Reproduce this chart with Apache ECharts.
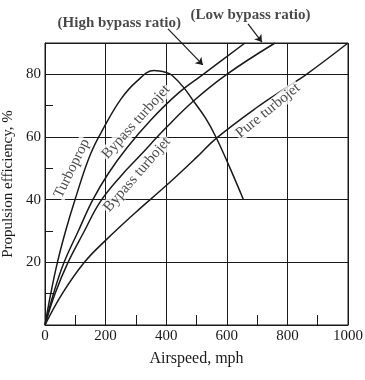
<!DOCTYPE html>
<html>
<head>
<meta charset="utf-8">
<script src="https://cdn.jsdelivr.net/npm/echarts@6/dist/echarts.min.js"></script>
<style>
html,body{margin:0;padding:0;background:#fff;}
#chart{width:365px;height:380px;}
</style>
</head>
<body>
<div id="chart"></div>
<script>
// ---- data ----
var xTicks = [0, 200, 400, 600, 800, 1000];
var yTicks = [20, 40, 60, 80];

var turbopropX = [0, 19, 41, 68, 99, 150, 200, 250, 300, 360, 400, 418, 456, 490, 530, 564, 611, 655];
var turbopropY = [0, 10, 20, 30, 40, 54.5, 64, 72, 77.5, 81.2, 80.6, 79.8, 76, 71.5, 66, 60, 50, 40];

var highBypassX = [0, 28, 63, 110, 158, 210, 270, 350, 440, 522, 660];
var highBypassY = [0, 10, 20, 30, 40, 48.5, 56.5, 65.5, 74, 80, 90];

var lowBypassX = [0, 33, 76, 130, 180, 250, 313, 400, 490, 600, 759];
var lowBypassY = [0, 10, 20, 30, 39, 47.5, 54, 63, 71.5, 80, 90];

var pureX = [0, 57, 130, 200, 300, 400, 500, 564, 700, 800, 863, 1000];
var pureY = [0, 10, 20, 27, 36, 44.5, 53.5, 59.5, 69.5, 76, 80, 90];

var curveNames = ['Turboprop', 'Bypass turbojet', 'Bypass turbojet', 'Pure turbojet'];
var noteNames = ['(High bypass ratio)', '(Low bypass ratio)'];

// ---- build ----
function pairs(xs, ys) { return xs.map(function (x, i) { return [x, ys[i]]; }); }
var FONT = 'Liberation Serif';
var INK = '#1a1a1a';

function curve(xs, ys) {
  return {
    type: 'line', data: pairs(xs, ys), showSymbol: false, symbol: 'none',
    smooth: 0.4,
    lineStyle: { color: INK, width: 1.5 }, z: 3, silent: true
  };
}

function textMark(pt, txt, rot, size, weight, bg) {
  return {
    type: 'scatter', clip: false, symbolSize: 0, silent: true, z: 4,
    data: [{ value: pt, label: {
      show: true, position: 'inside', formatter: txt, rotate: rot,
      fontFamily: FONT, fontSize: size, fontWeight: weight, color: INK,
      align: 'center', verticalAlign: 'middle',
      backgroundColor: bg ? '#fff' : 'transparent', padding: [0, 1]
    } }]
  };
}

function arrow(a, b) {
  return {
    type: 'lines', coordinateSystem: 'cartesian2d', clip: false, silent: true, z: 4,
    symbol: ['none', 'arrow'], symbolSize: 7,
    lineStyle: { color: INK, width: 1.2, opacity: 1 },
    data: [{ coords: [a, b] }]
  };
}

var chart = echarts.init(document.getElementById('chart'), null, { renderer: 'canvas' });
var option = {
  backgroundColor: '#fff',
  animation: false,
  grid: { left: 45, right: 17, top: 43, bottom: 55, show: true, borderColor: INK, borderWidth: 1,
    containLabel: false, outerBoundsMode: 'none' },
  xAxis: [{
    type: 'value', min: 0, max: 1000, interval: 200,
    name: 'Airspeed, mph', nameLocation: 'middle', nameGap: 26,
    nameTextStyle: { fontFamily: FONT, fontSize: 16, color: INK },
    axisLine: { show: true, lineStyle: { color: INK, width: 1 } },
    axisTick: { show: false },
    axisLabel: { fontFamily: FONT, fontSize: 15, color: INK, margin: 4,
      formatter: function (v) { return xTicks.indexOf(v) >= 0 ? String(v) : ''; } },
    splitLine: { show: true, lineStyle: { color: INK, width: 1 } }
  }, {
    type: 'value', min: 0, max: 1000, interval: 100, position: 'bottom',
    axisLine: { show: false }, axisLabel: { show: false }, splitLine: { show: false },
    axisTick: { show: true, inside: true, length: 10, lineStyle: { color: INK, width: 1 } }
  }],
  yAxis: [{
    type: 'value', min: 0, max: 90, interval: 20,
    name: 'Propulsion efficiency, %', nameLocation: 'middle', nameGap: 26, nameRotate: 90,
    nameTextStyle: { fontFamily: FONT, fontSize: 15, color: INK },
    axisLine: { show: true, lineStyle: { color: INK, width: 1 } },
    axisTick: { show: false },
    axisLabel: { fontFamily: FONT, fontSize: 15, color: INK, margin: 4,
      showMinLabel: false, showMaxLabel: false,
      formatter: function (v) { return yTicks.indexOf(v) >= 0 ? String(v) : ''; } },
    splitLine: { show: true, lineStyle: { color: INK, width: 1 } }
  }, {
    type: 'value', min: 0, max: 90, interval: 10, position: 'left',
    axisLine: { show: false }, axisLabel: { show: false }, splitLine: { show: false },
    axisTick: { show: true, inside: true, length: 8, lineStyle: { color: INK, width: 1 } }
  }],
  series: [
    curve(turbopropX, turbopropY),
    curve(highBypassX, highBypassY),
    curve(lowBypassX, lowBypassY),
    curve(pureX, pureY),
    textMark([89, 50], curveNames[0], 64, 15, 'normal', true),
    textMark([300, 64.8], curveNames[1], 48, 15, 'normal', true),
    textMark([304, 48], curveNames[2], 49, 15, 'normal', true),
    textMark([736, 68.4], curveNames[3], 39, 15, 'normal', true),
    textMark([245, 96.4], noteNames[0], 0, 15, 'bold', false),
    textMark([678, 98.8], noteNames[1], 0, 15, 'bold', false),
    arrow([406, 94.5], [521, 83]),
    arrow([670, 96.1], [716, 90.3])
  ]
};
chart.setOption(option);
</script>
</body>
</html>
